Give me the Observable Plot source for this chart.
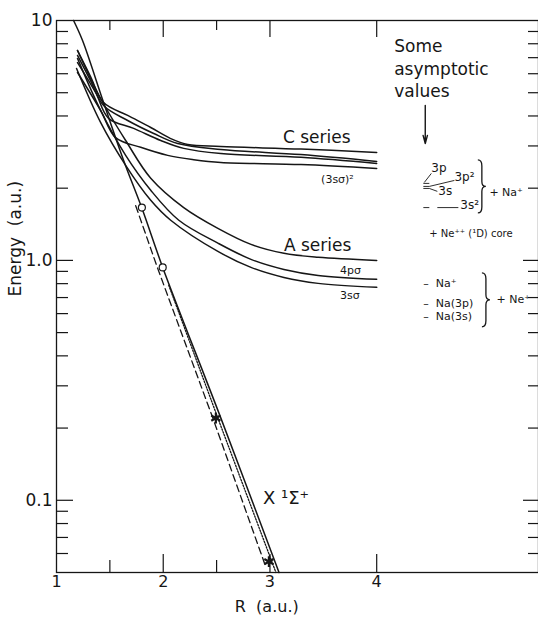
<!DOCTYPE html>
<html><head><meta charset="utf-8">
<script src="https://cdn.jsdelivr.net/npm/d3@7"></script>
<script src="https://cdn.jsdelivr.net/npm/@observablehq/plot@0.6"></script>
<style>body{margin:0;background:#fff} svg{display:block}</style>
</head><body><div id="chart"></div>
<script>
// ---- data (R in a.u., Energy in a.u.) ----
// C series (4 curves)
const c1R=[1.197,1.319,1.441,1.667,1.883,2.070,2.230,2.540,3.291,4.0];
const c1E=[7.50,5.84,4.55,4.02,3.58,3.22,3.04,2.985,2.91,2.82];
const c2R=[1.197,1.319,1.441,1.667,1.911,2.136,2.540,3.291,4.0];
const c2E=[7.15,5.62,4.42,3.83,3.38,3.07,2.90,2.76,2.585];
const c3R=[1.197,1.366,1.488,1.723,1.977,2.192,2.540,3.291,4.0];
const c3E=[6.68,5.01,3.91,3.55,3.16,2.93,2.79,2.69,2.536];
const c4R=[1.197,1.413,1.554,1.789,2.042,2.286,2.540,3.291,4.0];
const c4E=[6.07,4.22,3.25,2.96,2.74,2.63,2.56,2.51,2.416];
// A series (3 curves)
const a1R=[1.197,1.413,1.648,1.883,2.192,2.512,2.822,3.131,3.451,4.0];
const a1E=[7.50,4.73,3.16,2.20,1.66,1.36,1.166,1.07,1.03,1.0];
const a2R=[1.197,1.413,1.648,1.883,2.146,2.512,2.822,3.131,3.451,4.0];
const a2E=[6.95,4.22,2.74,1.96,1.47,1.18,1.01,0.917,0.866,0.834];
const a3R=[1.188,1.413,1.648,1.883,2.070,2.512,2.822,3.131,3.451,4.0];
const a3E=[6.31,3.76,2.49,1.78,1.47,1.09,0.935,0.849,0.802,0.772];
// X 1Σ+ ground state: solid, dashed, dotted
const xSolidR=[1.16,1.244,1.441,1.629,1.798,1.995,2.54,3.085];
const xSolidE=[10,8.25,4.55,2.61,1.66,0.935,0.22,0.05];
const xDashR=[1.742,1.948,2.465,2.962];
const xDashE=[1.69,0.926,0.22,0.0526];
const xDotR=[2.052,2.512,3.056];
const xDotE=[0.787,0.22,0.05];
// symbols
const circR=[1.80,1.995];
const circE=[1.66,0.935];
const starR=[2.493,2.99];
const starE=[0.22,0.0555];
// ticks
const xLabelTicks=[1,2,3,4];
const xMajorTicks=[2,3,4];
const xMinorTicks=[1.5,2.5];
const yLabelTicks=[0.1,1,10];
const yMajorTicks=[0.1,1];
const yMinorTicks=[0.06,0.07,0.08,0.09,0.2,0.3,0.4,0.5,0.6,0.7,0.8,0.9,2,3,4,5,6,7,8,9];

const rows=(name,R,E)=>R.map((r,i)=>({name,r,e:E[i]}));
const curves=[
  ...rows("c1",c1R,c1E),...rows("c2",c2R,c2E),...rows("c3",c3R,c3E),...rows("c4",c4R,c4E),
  ...rows("a1",a1R,a1E),...rows("a2",a2R,a2E),...rows("a3",a3R,a3E),
  ...rows("xs",xSolidR,xSolidE)
];
const dashRows=rows("xd",xDashR,xDashE);
const dotRows=rows("xo",xDotR,xDotE);
const circRows=rows("c",circR,circE);
const starRows=rows("s",starR,starE);

const W=538,H=624,ML=56,MR=0,MT=20,MB=52;
const iw=W-ML-MR, ih=H-MT-MB;
const ink="#161616";
const F="DejaVu Sans";

const labels=[
  {r:3.122,e:3.25,t:"C series",s:17},
  {r:3.131,e:1.155,t:"A series",s:17},
  {r:3.479,e:2.175,t:"(3sσ)²",s:11},
  {r:3.657,e:0.909,t:"4pσ",s:11},
  {r:3.657,e:0.715,t:"3sσ",s:11},
  {r:2.934,e:0.102,t:"X ¹Σ⁺",s:18},
  {r:4.512,e:2.416,t:"3p",s:12},
  {r:4.728,e:2.218,t:"3p²",s:12},
  {r:4.577,e:1.94,t:"3s",s:12},
  {r:4.784,e:1.695,t:"3s²",s:12},
  {r:5.056,e:1.92,t:"+ Na⁺",s:11},
  {r:4.493,e:1.296,t:"+ Ne⁺⁺ (¹D) core",s:10},
  {r:4.437,e:0.802,t:"–  Na⁺",s:11},
  {r:4.437,e:0.662,t:"–  Na(3p)",s:11},
  {r:4.437,e:0.585,t:"–  Na(3s)",s:11},
  {r:5.122,e:0.688,t:"+ Ne⁺",s:11}
];
const levelLinks=[
  {r1:4.437,r2:4.493,e1:2.094,e2:2.094},
  {r1:4.437,r2:4.493,e1:2.034,e2:2.034},
  {r1:4.437,r2:4.493,e1:1.995,e2:1.995},
  {r1:4.446,r2:4.512,e1:2.113,e2:2.304},
  {r1:4.493,r2:4.728,e1:2.034,e2:2.154},
  {r1:4.493,r2:4.568,e1:1.995,e2:1.94},
  {r1:4.437,r2:4.493,e1:1.66,e2:1.66},
  {r1:4.568,r2:4.765,e1:1.66,e2:1.66}
];
const braceR=[4.99,5.028];
const braceTop=[2.61,0.883];
const braceBot=[1.57,0.526];

const chart=Plot.plot({
  width:W,height:H,marginLeft:ML,marginRight:MR,marginTop:MT,marginBottom:MB,
  style:{fontFamily:F,background:"#fff",color:ink},
  x:{domain:[1,5.516]},
  y:{type:"log",domain:[0.05,10]},
  marks:[
    Plot.frame({stroke:ink,strokeWidth:1.3}),
    // inward ticks
    Plot.tickY(yMinorTicks,{y:d=>d,insetRight:iw-12,stroke:ink,strokeWidth:1.2}),
    Plot.tickY(yMajorTicks,{y:d=>d,insetRight:iw-17,stroke:ink,strokeWidth:1.2}),
    Plot.tickY(yMinorTicks,{y:d=>d,insetLeft:iw-10,stroke:ink,strokeWidth:1.2}),
    Plot.tickY(yMajorTicks,{y:d=>d,insetLeft:iw-15,stroke:ink,strokeWidth:1.2}),
    Plot.tickX(xMinorTicks,{x:d=>d,insetTop:ih-12,stroke:ink,strokeWidth:1.2}),
    Plot.tickX(xMajorTicks,{x:d=>d,insetTop:ih-18,stroke:ink,strokeWidth:1.2}),
    Plot.tickX(xMinorTicks,{x:d=>d,insetBottom:ih-10,stroke:ink,strokeWidth:1.2}),
    Plot.tickX(xMajorTicks,{x:d=>d,insetBottom:ih-17,stroke:ink,strokeWidth:1.2}),
    Plot.axisY({ticks:yLabelTicks,tickSize:0,tickPadding:4,fontSize:17,label:null,
      tickFormat:d=>d>=10?"10":d.toFixed(1)}),
    Plot.axisX({ticks:xLabelTicks,tickSize:0,tickPadding:3,fontSize:16,label:null,tickFormat:d=>String(d)}),
    Plot.text(["Energy  (a.u.)"],{frameAnchor:"left",dx:-41,rotate:-90,fontSize:17,fill:ink}),
    Plot.text(["R  (a.u.)"],{x:[2.97],frameAnchor:"bottom",dy:39,fontSize:16,fill:ink}),
    // curves
    Plot.line(curves,{x:"r",y:"e",z:"name",curve:"catmull-rom",stroke:ink,strokeWidth:1.5}),
    Plot.line(dashRows,{x:"r",y:"e",stroke:ink,strokeWidth:1.3,strokeDasharray:"7,4"}),
    Plot.line(dotRows,{x:"r",y:"e",stroke:ink,strokeWidth:1.3,strokeDasharray:"1.5,1.5"}),
    Plot.dot(circRows,{x:"r",y:"e",r:3.5,stroke:ink,fill:"#fff",strokeWidth:1.2}),
    Plot.dot(starRows,{x:"r",y:"e",r:5,symbol:"asterisk",stroke:ink,strokeWidth:2.2}),
    // annotations
    Plot.text(["Some\nasymptotic\nvalues"],{x:[4.164],y:[6.37],textAnchor:"start",lineAnchor:"middle",lineHeight:1.3,fontSize:17,fill:ink}),
    Plot.arrow([{r1:4.455,r2:4.455,e1:4.43,e2:3.07}],{x1:"r1",x2:"r2",y1:"e1",y2:"e2",stroke:ink,strokeWidth:1.4,headLength:9,headAngle:30}),
    Plot.text(labels,{x:"r",y:"e",text:"t",fontSize:"s",textAnchor:"start",fill:ink}),
    Plot.link(levelLinks,{x1:"r1",x2:"r2",y1:"e1",y2:"e2",stroke:ink,strokeWidth:0.9})
  ]
});
// braces drawn as paths positioned through the plot's own scales
const sx=chart.scale("x"), sy=chart.scale("y");
const g=d3.select(chart).append("g").attr("fill","none").attr("stroke",ink).attr("stroke-width",1.3);
braceR.forEach((r,i)=>{
  const x=sx.apply(r), t=sy.apply(braceTop[i]), b=sy.apply(braceBot[i]), m=(t+b)/2;
  const x0=x-4, x2=x+4;
  g.append("path").attr("d",
    `M${x0},${t} Q${x},${t} ${x},${t+6} L${x},${m-5} Q${x},${m} ${x2},${m} Q${x},${m} ${x},${m+5} L${x},${b-6} Q${x},${b} ${x0},${b}`);
});
document.getElementById("chart").appendChild(chart);
</script>
</body></html>
